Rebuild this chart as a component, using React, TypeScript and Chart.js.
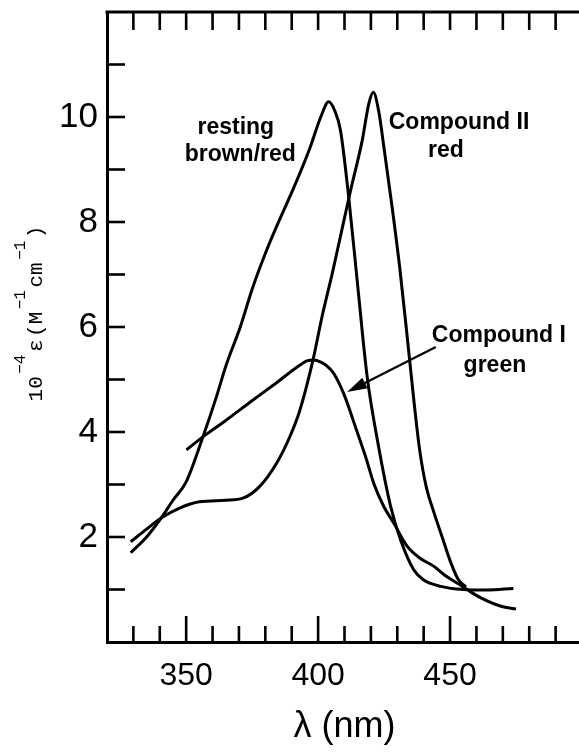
import React, { useEffect, useRef } from "react";
import { Chart, registerables } from "chart.js";

Chart.register(...registerables);

// ---- data (wavelength nm, 10^-4 epsilon) ----
const restingX = [329, 335, 340.5, 345, 350, 356.3, 361.4, 365.2, 370.5, 375, 380, 385, 390.5, 396.9, 401, 404, 406.3, 408.5, 411.6, 414.8, 418.6, 423, 427.5, 431.3, 436.3, 440, 446.5, 455, 464, 474];
const restingY = [1.70, 2.0, 2.36, 2.7, 3.05, 3.9, 4.66, 5.28, 6.0, 6.72, 7.4, 8.0, 8.62, 9.41, 10.0, 10.29, 10.12, 9.74, 8.47, 6.89, 5.05, 3.7, 2.58, 1.94, 1.37, 1.18, 1.06, 1.0, 0.99, 1.02];

const compoundIIX = [329, 335, 340.5, 347.5, 355, 365, 371.5, 377.8, 384.2, 389.2, 393, 398, 401.5, 405.5, 409, 412.3, 416.7, 419.2, 420.9, 423, 425, 428, 431, 434, 436.5, 438.5, 441, 444, 447, 450, 453, 456];
const compoundIIY = [1.91, 2.15, 2.36, 2.55, 2.67, 2.70, 2.74, 2.96, 3.40, 3.9, 4.4, 5.36, 6.2, 7.05, 7.85, 8.60, 9.55, 10.25, 10.47, 10.1, 9.4, 8.3, 7.1, 5.7, 4.5, 3.65, 2.95, 2.45, 2.0, 1.55, 1.2, 1.05];

const compoundIX = [350.1, 357.2, 365, 374.3, 384, 393.3, 396, 398.4, 401, 403.5, 406, 409.7, 414.8, 418, 421.1, 424.7, 428.7, 433.8, 438.5, 443.9, 448, 452.8, 457, 461.7, 469.3, 475];
const compoundIY = [3.66, 3.94, 4.22, 4.57, 4.93, 5.28, 5.36, 5.37, 5.33, 5.25, 5.11, 4.73, 4.0, 3.53, 3.02, 2.6, 2.26, 1.82, 1.6, 1.44, 1.27, 1.12, 0.98, 0.84, 0.68, 0.63];

const xTickLabels = [350, 400, 450];
const yTickLabels = [2, 4, 6, 8, 10];
const xMinorTicks = [330, 340, 350, 360, 370, 380, 390, 400, 410, 420, 430, 440, 450, 460, 470, 480, 490];
const yMinorTicks = [1, 2, 3, 4, 5, 6, 7, 8, 9, 10, 11];

const xTitle = "λ (nm)";
const yTitleParts = [
  { t: "10", sup: false },
  { t: "−4", sup: true },
  { t: "ε", sup: false },
  { t: "(M", sup: false },
  { t: "−1", sup: true },
  { t: "cm", sup: false },
  { t: "−1", sup: true },
  { t: ")", sup: false },
];

const noteTexts = ["resting", "brown/red", "Compound II", "red", "Compound I", "green"];
const noteX = [368.8, 370.5, 453.4, 448.4, 468.5, 467.0];
const noteY = [9.68, 9.17, 9.78, 9.23, 5.71, 5.14];
const arrowFrom = { x: 444.6, y: 5.62 };
const arrowTo = { x: 411.0, y: 4.76 };

const toPts = (xs: number[], ys: number[]) => xs.map((x, i) => ({ x, y: ys[i] }));

const decorPlugin = {
  id: "decor",
  afterDraw(chart: any) {
    const { ctx, chartArea: a, scales } = chart;
    const xs = scales.x;
    const ys = scales.y;
    ctx.save();
    ctx.strokeStyle = "#000";
    ctx.fillStyle = "#000";
    ctx.lineCap = "butt";
    // top border
    ctx.lineWidth = 3;
    ctx.beginPath();
    ctx.moveTo(a.left - 1.5, a.top);
    ctx.lineTo(chart.width, a.top);
    ctx.stroke();
    // x ticks (inward, top and bottom)
    ctx.lineWidth = 2.6;
    for (const v of xMinorTicks) {
      const px = xs.getPixelForValue(v);
      const major = xTickLabels.includes(v);
      ctx.beginPath();
      ctx.moveTo(px, a.bottom);
      ctx.lineTo(px, a.bottom - (major ? 26 : 16));
      ctx.moveTo(px, a.top);
      ctx.lineTo(px, a.top + 18);
      ctx.stroke();
    }
    // y ticks (inward)
    for (const v of yMinorTicks) {
      const py = ys.getPixelForValue(v);
      ctx.beginPath();
      ctx.moveTo(a.left, py);
      ctx.lineTo(a.left + 18, py);
      ctx.stroke();
    }
    // annotations
    ctx.font = "bold 23px 'Liberation Sans', Arial, sans-serif";
    ctx.textAlign = "center";
    ctx.textBaseline = "alphabetic";
    noteTexts.forEach((t, i) => {
      ctx.fillText(t, xs.getPixelForValue(noteX[i]), ys.getPixelForValue(noteY[i]));
    });
    // arrow
    const x1 = xs.getPixelForValue(arrowFrom.x);
    const y1 = ys.getPixelForValue(arrowFrom.y);
    const x2 = xs.getPixelForValue(arrowTo.x);
    const y2 = ys.getPixelForValue(arrowTo.y);
    const ang = Math.atan2(y2 - y1, x2 - x1);
    const hl = 20;
    const hw = 6;
    ctx.lineWidth = 2.2;
    ctx.beginPath();
    ctx.moveTo(x1, y1);
    ctx.lineTo(x2 - Math.cos(ang) * hl * 0.8, y2 - Math.sin(ang) * hl * 0.8);
    ctx.stroke();
    ctx.beginPath();
    ctx.moveTo(x2, y2);
    ctx.lineTo(x2 - Math.cos(ang) * hl - Math.sin(ang) * hw, y2 - Math.sin(ang) * hl + Math.cos(ang) * hw);
    ctx.lineTo(x2 - Math.cos(ang) * hl + Math.sin(ang) * hw, y2 - Math.sin(ang) * hl - Math.cos(ang) * hw);
    ctx.closePath();
    ctx.fill();
    // y-axis title with superscripts
    const mainFont = "21px 'Liberation Mono', 'DejaVu Sans Mono', monospace";
    const supFont = "16px 'Liberation Mono', 'DejaVu Sans Mono', monospace";
    const gap = 2.5;
    let total = 0;
    const widths = yTitleParts.map((p) => {
      ctx.font = p.sup ? supFont : mainFont;
      const w = ctx.measureText(p.t).width;
      total += w;
      return w;
    });
    total += gap * (yTitleParts.length - 1);
    ctx.translate(42, 313.5);
    ctx.rotate(-Math.PI / 2);
    ctx.textAlign = "left";
    let pos = -total / 2;
    yTitleParts.forEach((p, i) => {
      ctx.font = p.sup ? supFont : mainFont;
      ctx.fillText(p.t, pos, p.sup ? -17 : 0);
      pos += widths[i] + gap;
    });
    ctx.restore();
  },
};

export default function App() {
  const ref = useRef<HTMLCanvasElement | null>(null);
  useEffect(() => {
    if (!ref.current) return;
    const line = (xs: number[], ys: number[]) => ({
      data: toPts(xs, ys),
      borderColor: "#000",
      borderWidth: 3,
      pointRadius: 0,
      fill: false,
      cubicInterpolationMode: "monotone" as const,
    });
    const chart = new Chart(ref.current, {
      type: "line",
      data: {
        datasets: [
          { label: "resting", ...line(restingX, restingY) },
          { label: "Compound II", ...line(compoundIIX, compoundIIY) },
          { label: "Compound I", ...line(compoundIX, compoundIY) },
        ],
      },
      options: {
        animation: false,
        responsive: false,
        layout: { padding: { top: 12, right: 3, left: 0, bottom: 0 } },
        plugins: { legend: { display: false }, tooltip: { enabled: false } },
        scales: {
          x: {
            type: "linear",
            min: 320,
            max: 500,
            afterFit: (s: any) => {
              s.height = 114;
              s.paddingLeft = 0;
              s.paddingRight = 0;
            },
            grid: { display: false, drawTicks: false },
            border: { display: true, color: "#000", width: 3 },
            ticks: {
              stepSize: 10,
              autoSkip: false,
              maxRotation: 0,
              padding: 15,
              color: "#000",
              font: { family: "'Liberation Sans', Arial, sans-serif", size: 32 },
              callback: (v: any) => (xTickLabels.includes(Number(v)) ? String(v) : ""),
            },
            title: {
              display: true,
              text: xTitle,
              color: "#000",
              font: { family: "'Liberation Sans', Arial, sans-serif", size: 36 },
              padding: { top: 0, bottom: 7 },
            },
          },
          y: {
            type: "linear",
            min: 0,
            max: 12,
            afterFit: (s: any) => {
              s.width = 107;
              s.paddingTop = 0;
              s.paddingBottom = 0;
            },
            grid: { display: false, drawTicks: false },
            border: { display: true, color: "#000", width: 3 },
            ticks: {
              stepSize: 1,
              autoSkip: false,
              padding: 9,
              color: "#000",
              font: { family: "'Liberation Sans Narrow', 'Liberation Sans', Arial, sans-serif", size: 35 },
              callback: (v: any) => (yTickLabels.includes(Number(v)) ? String(v) : ""),
            },
          },
        },
      },
      plugins: [decorPlugin],
    });
    return () => chart.destroy();
  }, []);
  return (
    <div
      style={{
        position: "absolute",
        left: 0,
        top: 0,
        width: 579,
        height: 756,
        overflow: "hidden",
        background: "#fff",
      }}
    >
      <canvas ref={ref} width={585} height={756} style={{ display: "block", width: 585, height: 756 }} />
    </div>
  );
}
